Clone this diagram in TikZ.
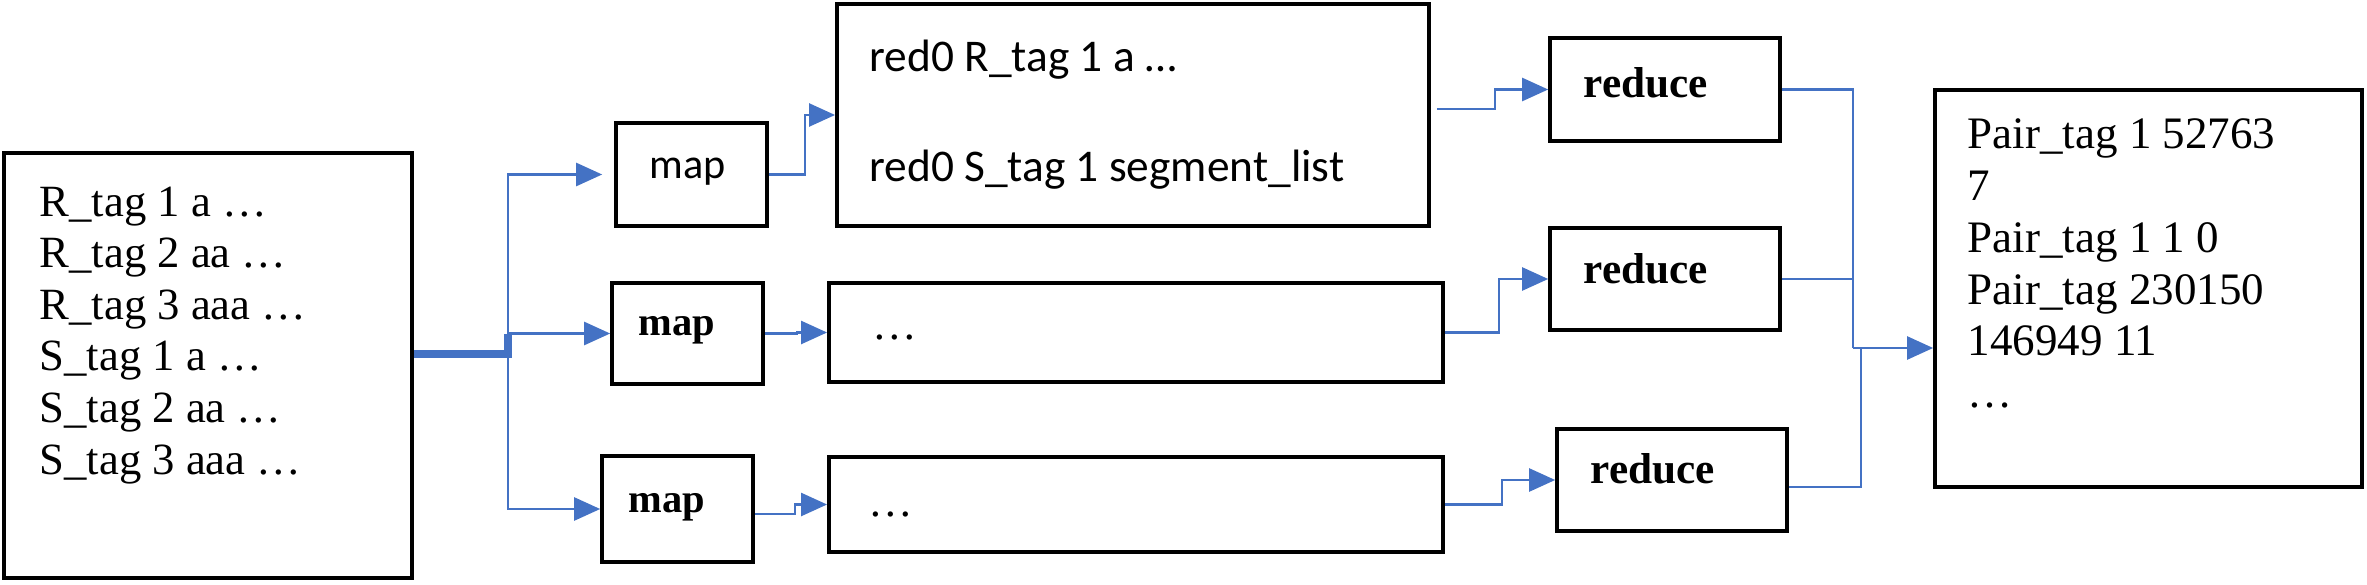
\documentclass[tikz,border=0pt]{standalone}
\usepackage{fontspec}
\setmainfont{Liberation Serif}
\newfontfamily\calfont{Carlito}
\usetikzlibrary{arrows.meta}
\definecolor{lineblue}{RGB}{68,114,196}
\begin{document}
\begin{tikzpicture}[x=0.01cm,y=-0.01cm,
  box/.style={draw=black,line width=1pt,inner sep=0pt,rectangle},
  conn/.style={draw=lineblue,line width=0.7pt},
  arr/.style={conn,-{Triangle[length=0.26cm,width=0.23cm]}},
  thickconn/.style={draw=lineblue,line width=2pt},
  lbl/.style={inner sep=0pt,anchor=base west},
  intext/.style={lbl,font=\fontsize{12.7}{14}\selectfont},
  outtext/.style={lbl,font=\fontsize{12.8}{15}\selectfont},
  redtext/.style={lbl,font=\calfont\fontsize{12.9}{15}\selectfont},
  mapsans/.style={inner sep=0pt,font=\calfont\fontsize{12}{14}\selectfont},
  mapserif/.style={inner sep=0pt,font=\bfseries\fontsize{11.5}{13}\selectfont},
  redlabel/.style={inner sep=0pt,font=\bfseries\fontsize{12.3}{14}\selectfont}
]
\useasboundingbox (0,0) rectangle (2367,585);

% boxes
\node[box,minimum width=4.08cm,minimum height=4.25cm] (in) at (208,365.5) {};
\node[box,minimum width=1.51cm,minimum height=1.03cm] (m1) at (691.5,174.5) {};
\node[box,minimum width=1.51cm,minimum height=1.01cm] (m2) at (687.5,333.5) {};
\node[box,minimum width=1.51cm,minimum height=1.06cm] (m3) at (677.5,509) {};
\node[box,minimum width=5.92cm,minimum height=2.22cm] (l1) at (1133,115) {};
\node[box,minimum width=6.14cm,minimum height=0.99cm] (l2) at (1136,332.5) {};
\node[box,minimum width=6.14cm,minimum height=0.95cm] (l3) at (1136,504.5) {};
\node[box,minimum width=2.30cm,minimum height=1.03cm] (r1) at (1665,89.5) {};
\node[box,minimum width=2.30cm,minimum height=1.02cm] (r2) at (1665,279) {};
\node[box,minimum width=2.30cm,minimum height=1.02cm] (r3) at (1672,480) {};
\node[box,minimum width=4.27cm,minimum height=3.97cm] (out) at (2148.5,288.5) {};

% texts
\node[intext] (in1) at (39,216) {R\_tag 1 a …};
\node[intext] (in2) at (39,267.6) {R\_tag 2 aa …};
\node[intext] (in3) at (39,319.2) {R\_tag 3 aaa …};
\node[intext] (in4) at (39,370.8) {S\_tag 1 a …};
\node[intext] (in5) at (39,422.4) {S\_tag 2 aa …};
\node[intext] (in6) at (39,474) {S\_tag 3 aaa …};

\node[mapsans] (t-m1) at (688,172) {map};
\node[mapserif] (t-m2) at (677,330) {map};
\node[mapserif] (t-m3) at (667,507) {map};

\node[redtext] (t-l1a) at (869,72) {red0 R\_tag 1 a …};
\node[redtext] (t-l1b) at (869,182) {red0 S\_tag 1 segment\_list};
\node[intext] (t-l2) at (872,339) {…};
\node[intext] (t-l3) at (868,516) {…};

\node[redlabel] (t-r1) at (1646,83) {reduce};
\node[redlabel] (t-r2) at (1646,269) {reduce};
\node[redlabel] (t-r3) at (1653,469) {reduce};

\node[outtext] (o1) at (1967,149) {Pair\_tag 1 52763};
\node[outtext] (o2) at (1967,200.7) {7};
\node[outtext] (o3) at (1967,252.4) {Pair\_tag 1 1 0};
\node[outtext] (o4) at (1967,304.1) {Pair\_tag 230150};
\node[outtext] (o5) at (1967,355.8) {146949 11};
\node[outtext] (o6) at (1967,407.5) {…};

% connectors: input -> maps
\coordinate (split) at (508,354);
\draw[thickconn] (in.east |- split) -- (split) -- (split |- m2.west);
\draw[arr,shorten >=0.12cm] (split) |- (m1.west);
\draw[arr] (split) |- (m2.west);
\draw[arr] (split) |- (m3.west);

% maps -> lists
\draw[arr] (m1.east) -- ++(36,0) |- (l1.west);
\draw[arr] (m2.east) -- ++(32,0) |- (l2.west);
\draw[arr] ([yshift=-0.05cm]m3.east) -- ++(40,0) |- (l3.west);

% lists -> reduces
\draw[arr] ([xshift=0.06cm,yshift=0.06cm]l1.east) -- ++(58,0) |- (r1.west);
\draw[arr] (l2.east) -- ++(54,0) |- (r2.west);
\draw[arr] (l3.east) -- ++(57,0) |- (r3.west);

% reduces -> output
\coordinate (merge) at (1853,348);
\coordinate (merge2) at (1861,348);
\draw[conn] (r1.east) -| (merge);
\draw[conn] (r2.east) -- (r2.east -| merge);
\draw[conn] ([yshift=-0.07cm]r3.east) -| (merge2) -- (merge);
\draw[arr] (merge) -- (merge -| out.west);
\end{tikzpicture}
\end{document}
